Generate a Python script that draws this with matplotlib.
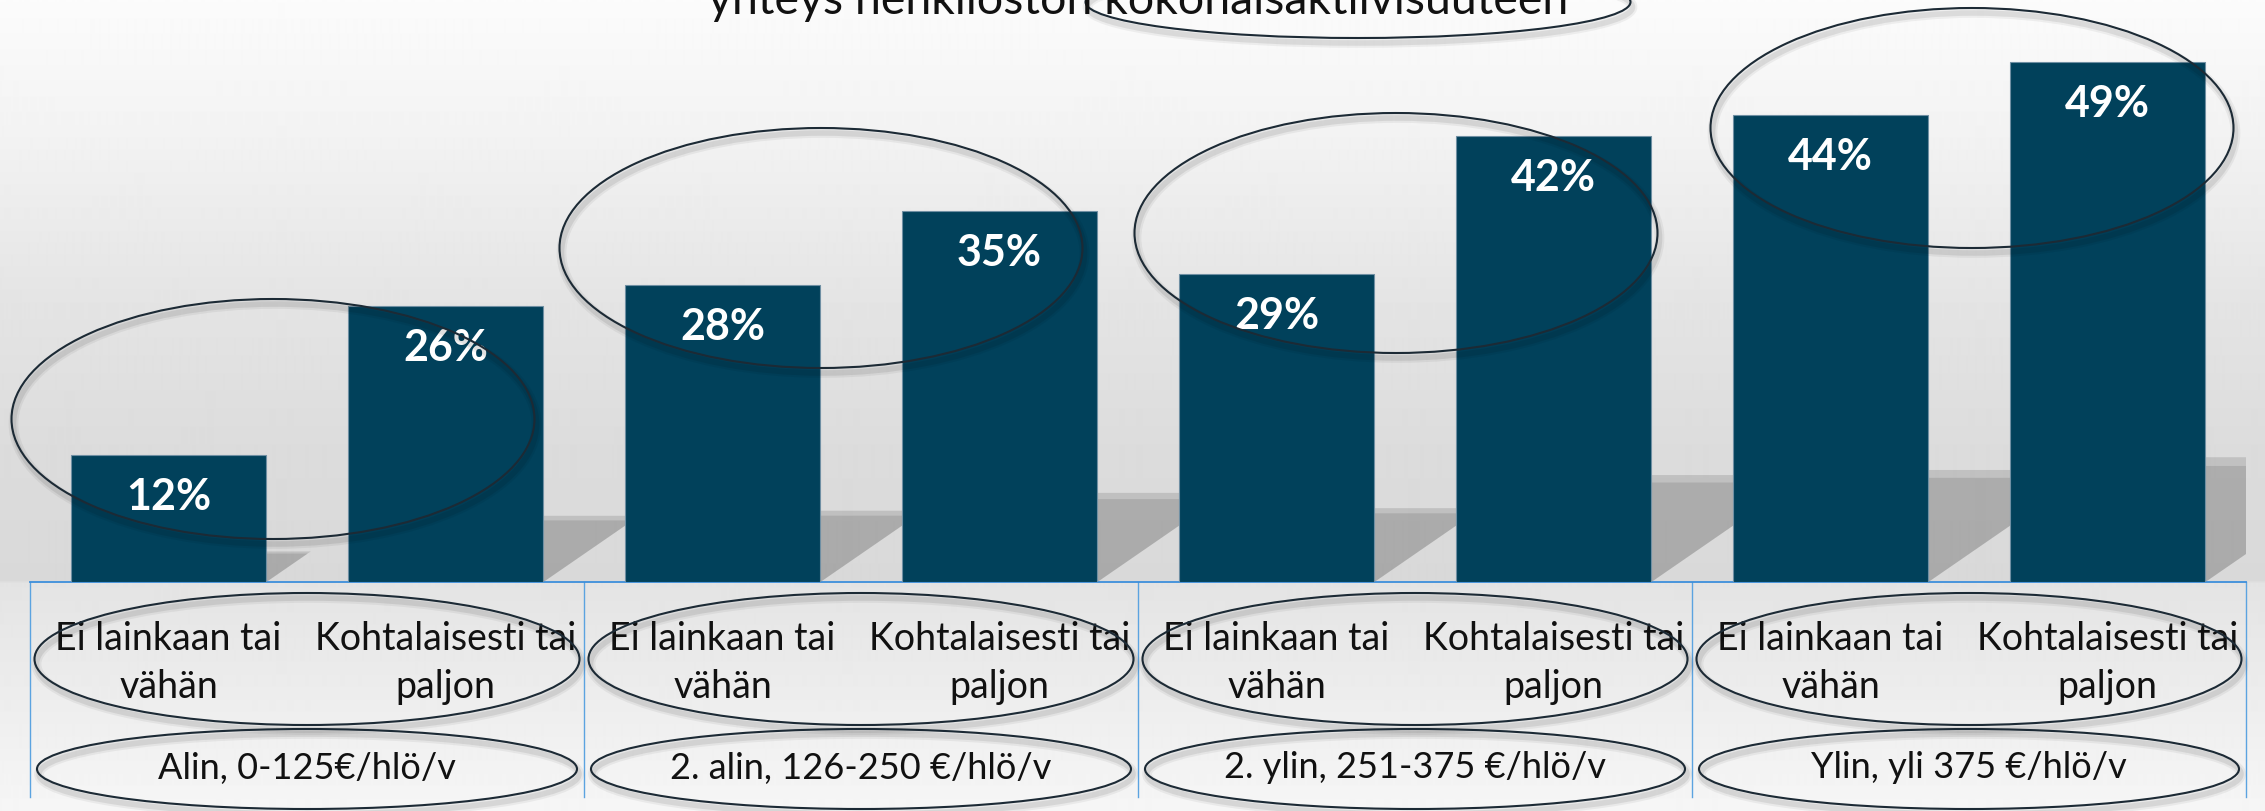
import matplotlib
matplotlib.use("Agg")
import matplotlib.pyplot as plt
import matplotlib.transforms as mtransforms
from matplotlib.patches import Ellipse, Polygon
import numpy as np

# ---------------- data ----------------
categories = ["Ei lainkaan tai\nvähän", "Kohtalaisesti tai\npaljon"] * 4
groups = ["Alin, 0-125€/hlö/v", "2. alin, 126-250 €/hlö/v",
          "2. ylin, 251-375 €/hlö/v", "Ylin, yli 375 €/hlö/v"]
values = [12, 26, 28, 35, 29, 42, 44, 49]
title_visible = "yhteys henkilöston kokonaisaktiivisuuteen"

# ---------------- style ----------------
FONT = ["Lato", "DejaVu Sans"]
plt.rcParams["font.family"] = FONT
W, H, DPI = 2265, 811, 100
BAR = "#01415b"
ELL = "#1c2a35"
AXBLUE = "#3d8fdb"

fig = plt.figure(figsize=(W / DPI, H / DPI), dpi=DPI)

# background gradient
bg = fig.add_axes([0, 0, 1, 1], zorder=0)
stops_y = [0, 120, 300, 450, 580, 583, 700, 811]
stops_v = [0.985, 0.955, 0.895, 0.862, 0.850, 0.893, 0.930, 0.965]
yy = np.arange(H)
col = np.interp(yy, stops_y, stops_v)
img = np.repeat(col[:, None], 4, axis=1)
bg.imshow(img, cmap="gray", vmin=0, vmax=1, aspect="auto",
          extent=[0, W, H, 0], interpolation="bilinear")
bg.set_xlim(0, W)
bg.set_ylim(H, 0)
bg.axis("off")

# main axes: left 30px, right 2246px, baseline at 582px from top
px_left, px_right, px_base = 30, 2246, 582
px_per_unit = 10.61
ax = fig.add_axes([px_left / W, (H - px_base) / H, (px_right - px_left) / W, px_base / H], zorder=2)
ax.patch.set_alpha(0)
x = np.arange(len(values))
bw = 0.707
ax.set_xlim(-0.5, len(values) - 0.5)
ax.set_ylim(0, px_base / px_per_unit)
slot_px = (px_right - px_left) / len(values)

# perspective shadows behind bars
for xi, v in zip(x, values):
    hs = 0.24 * v
    s = 1.45 * hs * px_per_unit / slot_px
    for k, a in [(1.0, 0.12), (0.93, 0.10)]:
        poly = Polygon([(xi - bw / 2, 0), (xi + bw / 2, 0),
                        (xi + bw / 2 + s * k, hs * k), (xi - bw / 2 + s * k, hs * k)],
                       closed=True, facecolor="black", alpha=a, edgecolor="none", zorder=1)
        ax.add_patch(poly)

bars = ax.bar(x, values, width=bw, color=BAR, edgecolor="#6f8fa3", linewidth=0.8, zorder=3)

# value labels
for xi, v in zip(x, values):
    ax.annotate(f"{v}%", (xi, v), xytext=(0, -42 * 72 / DPI), textcoords="offset points",
                ha="center", va="center", color="white", fontsize=31, fontweight="bold", zorder=5)

for sp in ["top", "left", "right"]:
    ax.spines[sp].set_visible(False)
ax.spines["bottom"].set_color(AXBLUE)
ax.spines["bottom"].set_linewidth(1.3)
ax.set_yticks([])
ax.set_xticks(x)
ax.set_xticklabels(categories, fontsize=27, linespacing=1.4, color="#111111")
ax.tick_params(axis="x", length=0, pad=(663 - px_base) * 72 / DPI)
for lab in ax.get_xticklabels():
    lab.set_va("center")

# group separators and group labels
trans = mtransforms.blended_transform_factory(ax.transData, ax.transAxes)
sep_bottom = -(797 - px_base) / px_base
for b in np.arange(-0.5, len(values), 2):
    ax.plot([b, b], [0, sep_bottom], transform=trans, color="#5ba3e0", lw=1.0,
            clip_on=False, zorder=1)
for gi, g in enumerate(groups):
    ax.text(2 * gi + 0.5, -(768 - px_base) / px_base, g, transform=trans,
            ha="center", va="center", fontsize=26, color="#111111")

# title (only the visible last line)
fig.text((705 + 1572) / 2 / W, 1 - 14 / H, title_visible, ha="center", va="baseline",
         fontsize=33.5, color="#111111", zorder=6)

# overlay ellipses (pixel coords)
ov = fig.add_axes([0, 0, 1, 1], zorder=4)
ov.patch.set_alpha(0)
ov.set_xlim(0, W)
ov.set_ylim(H, 0)
ov.axis("off")

ellipses = [
    (273, 419, 523, 240), (821, 248, 523, 240), (1396, 233, 523, 240), (1972, 128, 523, 240),
    (1358, 2, 545, 72),
]
group_centers = [px_left + (2 * gi + 1) * slot_px for gi in range(4)]
ellipses += [(gc, 659, 545, 132) for gc in group_centers]
ellipses += [(gc, 769, 540, 80) for gc in group_centers]

for cx, cy, w, h in ellipses:
    for lw, a in [(7, 0.05), (4, 0.08)]:
        ov.add_patch(Ellipse((cx + 2, cy + 5), w, h, fill=False, edgecolor="black",
                             lw=lw, alpha=a))
    ov.add_patch(Ellipse((cx, cy), w, h, fill=False, edgecolor=ELL, lw=1.5))

fig.savefig("out.png", dpi=DPI)
